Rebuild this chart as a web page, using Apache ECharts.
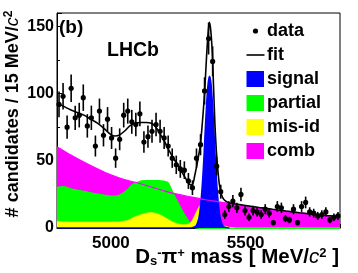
<!DOCTYPE html>
<html><head><meta charset="utf-8">
<script src="https://cdn.jsdelivr.net/npm/echarts@6/dist/echarts.min.js"></script>
<style>html,body{margin:0;padding:0;background:#fff}#c{width:358px;height:273px}</style>
</head><body><div id="c"></div>
<script>
// histogram bin centres [MeV/c^2], 15 MeV bins
const binCenters = [
 4807.5,4822.5,4837.5,4852.5,4867.5,4882.5,4897.5,4912.5,4927.5,4942.5,
 4957.5,4972.5,4987.5,5002.5,5017.5,5032.5,5047.5,5062.5,5077.5,5092.5,
 5107.5,5122.5,5137.5,5152.5,5167.5,5182.5,5197.5,5212.5,5227.5,5242.5,
 5257.5,5272.5,5287.5,5302.5,5317.5,5332.5,5347.5,5362.5,5377.5,5392.5,
 5407.5,5422.5,5437.5,5452.5,5467.5,5482.5,5497.5,5512.5,5527.5,5542.5,
 5557.5,5572.5,5587.5,5602.5,5617.5,5632.5,5647.5,5662.5,5677.5,5692.5,
 5707.5,5722.5,5737.5,5752.5,5767.5,5782.5,5797.5,5812.5,5827.5,5842.5];
// candidates per bin
const dataCounts = [
 92,98,75,104,82,84,97,76,82,61,
 87,69,81,67,52,66,84,87,79,77,
 85,64,68,72,77,72,67,61,52,47,
 44,43,35,30,52,62,102,141,124,46,
 27,10,16,20,15,25,13,8,13,12,
 10,14,11,4,16,15,7,6,14,4,
 16,19,12,11,9,10,12,6,8,9];

// total fit curve
const fitMass = [4800,4825,4850,4875,4900,4925,4950,4975,5000,5015,5030,5050,5070,5090,5110,5130,5150,5165,5180,5200,5215,5235,5250,5265,5280,5292,5302,5312,5322,5332,5340,5348,5355,5361,5365,5370,5376,5381,5386,5391,5396,5402,5410,5420,5435,5450,5500,5550,5600,5650,5700,5750,5800,5850];
const fitVals = [93,90.5,88,86,84,81,78,74,69.5,68.5,69,72,76,78,78.5,78.5,78,75.5,71,64,58,51,46.5,41,36,32.5,32,40,50,62,80,102,128,146,153,148,131,104,77,58,45,33,25,21,19,18.2,16.8,15.3,13.9,12.6,11.4,10.3,9.3,8.4];

// signal component
const sigMass = [4800,5290,5305,5316,5326,5331,5336,5341,5346,5351,5356,5361,5366,5371,5376,5381,5386,5391,5396,5401,5406,5416,5426,5440];
const sigVals = [0,0,0.4,1.5,7,13.5,24,38,56,77,95,108,113,108,95,77,56,38,24,13.5,7,1.5,0.3,0];

// partially reconstructed background
const partMass = [4800,4825,4850,4900,4950,5000,5020,5040,5060,5080,5100,5125,5150,5175,5200,5212,5225,5240,5258,5275,5292,5305,5316,5330,5850];
const partVals = [30,30.5,29,27,25,23.5,23.5,25,28,32,34,35,35,35,34.5,33.5,28,22,15,9,4,1.5,0.3,0,0];

// mis-identified background
const misMass = [4800,4850,4900,4950,5000,5030,5060,5090,5120,5146,5175,5200,5225,5250,5275,5295,5310,5322,5332,5345,5360,5375,5390,5405,5420,5440,5460];
const misVals = [5,4.5,4.5,4.5,4.5,4.8,5.5,8.5,10.5,11.5,10.5,8,5,3,2.5,4,9,14,17,15.5,12.5,9,6,3.5,1.5,0.5,0];

// combinatorial background
const combMass = [4800,4850,4900,4950,5000,5050,5100,5150,5200,5250,5300,5350,5400,5450,5500,5550,5600,5650,5700,5750,5800,5850];
const combVals = [60.5,54.5,49,44,39.5,36,33.5,30.5,27.5,25,23,21,19.5,18,16.5,15,13.6,12.4,11.2,10.1,9.1,8.2];

const xTickLabels = [5000, 5500];
const yTickLabels = [0, 50, 100, 150];
const legendNames = ['data','fit','signal','partial','mis-id','comb'];

const pairs = (xs, ys) => xs.map((x, i) => [x, ys[i]]);
const FONT = '"Liberation Sans", Arial, Helvetica, sans-serif';
const C = {signal:'#0000ff', partial:'#00ff00', misid:'#ffff00', comb:'#ff00ff'};

const chart = echarts.init(document.getElementById('c'), null, {renderer:'canvas'});

const legendRows = [];
const lx = 246.5, ly0 = 31, dy = 24;
legendNames.forEach((n, i) => {
  const cy = ly0 + dy * i;
  if (n === 'data') {
    legendRows.push({type:'circle', shape:{cx:lx+9, cy:cy, r:2.6}, style:{fill:'#000'}});
  } else if (n === 'fit') {
    legendRows.push({type:'line', shape:{x1:lx, y1:cy, x2:lx+18, y2:cy}, style:{stroke:'#000', lineWidth:1.6}});
  } else {
    const col = [C.signal, C.partial, C.misid, C.comb][i-2];
    legendRows.push({type:'rect', shape:{x:lx, y:cy-8, width:17.5, height:16}, style:{fill:col}});
  }
  legendRows.push({type:'text', x:lx+20.5, y:cy, style:{text:n, fill:'#000', font:'bold 18px '+FONT, textVerticalAlign:'middle', textAlign:'left'}});
});

const option = {
  animation:false,
  backgroundColor:'#fff',
  grid:{left:57, right:18, top:13, bottom:45, show:true, borderColor:'#000', borderWidth:1, backgroundColor:'transparent'},
  xAxis:{type:'value', min:4800, max:5850, interval:100,
    axisLine:{lineStyle:{color:'#000', width:1}},
    axisTick:{inside:true, length:4, lineStyle:{color:'#000'}},
    splitLine:{show:false},
    axisLabel:{color:'#000', fontFamily:FONT, fontWeight:'bold', fontSize:17, margin:7,
      formatter:v => xTickLabels.includes(v) ? String(v) : ''}},
  yAxis:{type:'value', min:0, max:160, interval:50,
    axisLine:{show:true, lineStyle:{color:'#000', width:1}},
    axisTick:{inside:true, length:5, lineStyle:{color:'#000'}},
    minorTick:{show:true, splitNumber:2, length:3, lineStyle:{color:'#000'}},
    splitLine:{show:false},
    axisLabel:{color:'#000', fontFamily:FONT, fontWeight:'bold', fontSize:16, margin:3,
      formatter:v => yTickLabels.includes(v) ? String(v) : ''}},
  series:[
    {name:'comb', type:'line', data:pairs(combMass, combVals), showSymbol:false, smooth:0.3,
     lineStyle:{width:0}, areaStyle:{color:C.comb, opacity:1}, z:1},
    {name:'partial', type:'line', data:pairs(partMass, partVals), showSymbol:false, smooth:0.3,
     lineStyle:{width:1.8, color:C.partial}, areaStyle:{color:C.partial, opacity:1}, z:2},
    {name:'mis-id', type:'line', data:pairs(misMass, misVals), showSymbol:false, smooth:0.3,
     lineStyle:{width:0.8, color:'#e6e600'}, areaStyle:{color:C.misid, opacity:1}, z:3},
    {name:'signal', type:'line', data:pairs(sigMass, sigVals), showSymbol:false, smooth:0.3,
     lineStyle:{width:1.5, color:C.signal}, areaStyle:{color:C.signal, opacity:1}, z:4},
    {name:'comb line', type:'line', data:pairs(combMass, combVals), showSymbol:false, smooth:0.3,
     lineStyle:{width:1.2, color:C.comb}, z:5},
    {name:'fit', type:'line', data:pairs(fitMass, fitVals), showSymbol:false, smooth:0.25,
     lineStyle:{width:1.6, color:'#000'}, z:6},
    {name:'data', type:'custom', data:pairs(binCenters, dataCounts), z:7,
     renderItem:(params, api) => {
       const x = api.value(0), y = api.value(1), e = Math.sqrt(y);
       const p = api.coord([x, y]);
       const lo = api.coord([x, Math.max(0, y - e)]);
       const hi = api.coord([x, y + e]);
       return {type:'group', children:[
         {type:'line', shape:{x1:p[0], y1:lo[1], x2:p[0], y2:hi[1]}, style:{stroke:'#000', lineWidth:1.6}},
         {type:'circle', shape:{cx:p[0], cy:p[1], r:2.6}, style:{fill:'#000'}}
       ]};
     }}
  ],
  graphic:[
    {type:'text', x:59, y:28, style:{text:'(b)', fill:'#000', font:'bold 19px '+FONT, textVerticalAlign:'middle'}},
    {type:'text', x:107, y:51, style:{text:'LHCb', fill:'#000', font:'bold 19.5px '+FONT, textVerticalAlign:'middle'}},
    {type:'text', x:13, y:114, rotation:Math.PI/2,
     style:{text:'# candidates / 15 MeV/{i|c}{s|2}', fill:'#000', font:'bold 18px '+FONT, textAlign:'center', textVerticalAlign:'middle',
       rich:{i:{fontStyle:'italic', fontWeight:'normal', fontSize:18, fontFamily:FONT}, s:{fontSize:12, fontWeight:'bold', fontFamily:FONT, verticalAlign:'top', padding:[0,0,8,0]}}}},
    {type:'text', x:339, y:257,
     style:{text:'D{sub|s}{sup|-}π{sup|+} mass [ MeV/{i|c}{sup|2} ]', fill:'#000', font:'bold 20.5px '+FONT, textAlign:'right', textVerticalAlign:'middle',
       rich:{sub:{fontSize:13, fontWeight:'bold', fontFamily:FONT, padding:[8,0,0,0]},
             sup:{fontSize:13, fontWeight:'bold', fontFamily:FONT, padding:[0,0,8,0]},
             i:{fontStyle:'italic', fontWeight:'normal', fontSize:20.5, fontFamily:FONT}}}},
    ...legendRows
  ]
};
chart.setOption(option);
</script></body></html>
